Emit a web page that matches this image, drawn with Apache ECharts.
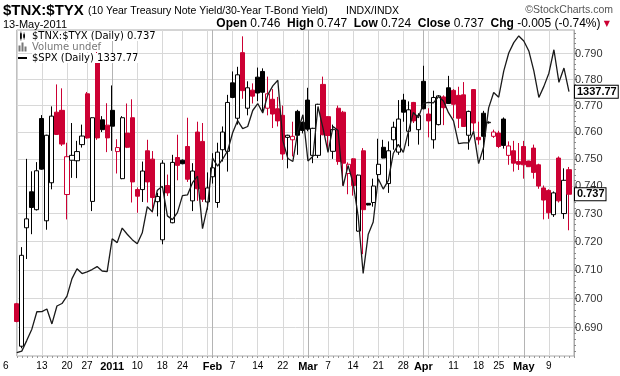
<!DOCTYPE html>
<html>
<head>
<meta charset="utf-8">
<script src="https://cdn.jsdelivr.net/npm/echarts@6/dist/echarts.min.js"></script>
<style>
  html, body { margin: 0; padding: 0; background: #fff; }
  #root { width: 620px; height: 376px; }
</style>
</head>
<body>
<div id="root"></div>
<script>
// trading days, 6-Dec-2010 .. 13-May-2011
const dates = [
  '2010-12-06','2010-12-07','2010-12-08','2010-12-09','2010-12-10','2010-12-13','2010-12-14','2010-12-15','2010-12-16','2010-12-17',
  '2010-12-20','2010-12-21','2010-12-22','2010-12-23','2010-12-27','2010-12-28','2010-12-29','2010-12-30','2010-12-31',
  '2011-01-03','2011-01-04','2011-01-05','2011-01-06','2011-01-07','2011-01-10','2011-01-11','2011-01-12','2011-01-13','2011-01-14',
  '2011-01-18','2011-01-19','2011-01-20','2011-01-21','2011-01-24','2011-01-25','2011-01-26','2011-01-27','2011-01-28','2011-01-31',
  '2011-02-01','2011-02-02','2011-02-03','2011-02-04','2011-02-07','2011-02-08','2011-02-09','2011-02-10','2011-02-11','2011-02-14',
  '2011-02-15','2011-02-16','2011-02-17','2011-02-18','2011-02-22','2011-02-23','2011-02-24','2011-02-25','2011-02-28',
  '2011-03-01','2011-03-02','2011-03-03','2011-03-04','2011-03-07','2011-03-08','2011-03-09','2011-03-10','2011-03-11','2011-03-14',
  '2011-03-15','2011-03-16','2011-03-17','2011-03-18','2011-03-21','2011-03-22','2011-03-23','2011-03-24','2011-03-25','2011-03-28',
  '2011-03-29','2011-03-30','2011-03-31','2011-04-01','2011-04-04','2011-04-05','2011-04-06','2011-04-07','2011-04-08','2011-04-11',
  '2011-04-12','2011-04-13','2011-04-14','2011-04-15','2011-04-18','2011-04-19','2011-04-20','2011-04-21','2011-04-25','2011-04-26',
  '2011-04-27','2011-04-28','2011-04-29','2011-05-02','2011-05-03','2011-05-04','2011-05-05','2011-05-06','2011-05-09','2011-05-10',
  '2011-05-11','2011-05-12','2011-05-13'
]

const opens = [
  0.6982,0.6837,0.7249,0.7379,0.7314,0.7651,0.7274,0.7412,0.7675,0.7682,
  0.7369,0.7495,0.7493,0.7553,0.7745,0.7344,0.7864,0.7646,0.7626,0.7682,
  0.7527,0.7427,0.7596,0.7654,0.7387,0.7387,0.7530,0.7499,0.7343,0.7206,
  0.7402,0.7267,0.7505,0.7495,0.7546,0.7346,0.7600,0.7565,0.7342,0.7434,
  0.7340,0.7534,0.7528,0.7787,0.7652,0.7904,0.7690,0.7759,0.7809,0.7831,
  0.7690,0.7724,0.7688,0.7663,0.7580,0.7571,0.7678,0.7636,0.7721,0.7513,
  0.7513,0.7781,0.7658,0.7528,0.7690,0.7675,0.7446,0.7500,0.7237,0.7530,
  0.7337,0.7340,0.7442,0.7543,0.7409,0.7571,0.7525,0.7721,0.7603,0.7712,
  0.7609,0.7793,0.7668,0.7571,0.7628,0.7733,0.7768,0.7758,0.7739,0.7741,
  0.7588,0.7761,0.7580,0.7671,0.7635,0.7584,0.7596,0.7649,0.7513,0.7530,
  0.7490,0.7546,0.7492,0.7540,0.7478,0.7393,0.7384,0.7296,0.7503,0.7300,
  0.746
]
const highs = [
  0.6985,0.7180,0.7500,0.7454,0.7488,0.7664,0.7590,0.7697,0.7781,0.7766,
  0.7560,0.7634,0.7567,0.7628,0.7752,0.7656,0.7918,0.7660,0.7709,0.7777,
  0.7573,0.7660,0.7708,0.7724,0.7395,0.7490,0.7571,0.7529,0.7375,0.7495,
  0.7442,0.7515,0.7590,0.7498,0.7654,0.7484,0.7639,0.7634,0.7450,0.7521,
  0.7560,0.7621,0.7741,0.7831,0.7849,0.7968,0.7793,0.7785,0.7846,0.7843,
  0.7811,0.7763,0.7733,0.7700,0.7590,0.7639,0.7684,0.7640,0.7768,0.7616,
  0.7707,0.7811,0.7660,0.7628,0.7700,0.7680,0.7487,0.7502,0.7442,0.7540,
  0.7338,0.7427,0.7575,0.7571,0.7565,0.7639,0.7721,0.7745,0.7716,0.7714,
  0.7671,0.7853,0.7690,0.7757,0.7740,0.7739,0.7814,0.7763,0.7772,0.7790,
  0.7681,0.7763,0.7639,0.7680,0.7640,0.7609,0.7605,0.7655,0.7565,0.7567,
  0.7559,0.7567,0.7493,0.7553,0.7482,0.7402,0.7388,0.7380,0.7509,0.7465,
  0.747
]
const lows = [
  0.6918,0.6830,0.7138,0.7226,0.7311,0.7460,0.7242,0.7388,0.7589,0.7548,
  0.7279,0.7430,0.7429,0.7542,0.7575,0.7309,0.7571,0.7600,0.7525,0.7530,
  0.7446,0.7425,0.7540,0.7340,0.7303,0.7342,0.7340,0.7304,0.7290,0.7190,
  0.7364,0.7265,0.7421,0.7480,0.7415,0.7309,0.7346,0.7342,0.7314,0.7409,
  0.7321,0.7490,0.7453,0.7728,0.7628,0.7726,0.7663,0.7708,0.7717,0.7678,
  0.7663,0.7615,0.7621,0.7496,0.7465,0.7509,0.7515,0.7595,0.7603,0.7484,
  0.7503,0.7588,0.7530,0.7500,0.7478,0.7402,0.7370,0.7365,0.7235,0.7155,
  0.7330,0.7325,0.7405,0.7502,0.7375,0.7534,0.7515,0.7639,0.7547,0.7634,
  0.7553,0.7686,0.7580,0.7538,0.7625,0.7626,0.7706,0.7652,0.7615,0.7619,
  0.7534,0.7603,0.7553,0.7496,0.7632,0.7578,0.7540,0.7538,0.7478,0.7453,
  0.7459,0.7427,0.7470,0.7427,0.7390,0.7279,0.7281,0.7288,0.7340,0.7281,
  0.724
]
const closes = [
  0.6921,0.7151,0.7281,0.7322,0.7456,0.7462,0.7588,0.7660,0.7591,0.7555,
  0.7508,0.7513,0.7527,0.7585,0.7578,0.7654,0.7578,0.7609,0.7578,0.7622,
  0.7542,0.7654,0.7543,0.7415,0.7363,0.7455,0.7415,0.7358,0.7362,0.7484,
  0.7375,0.7487,0.7476,0.7482,0.7425,0.7455,0.7390,0.7352,0.7393,0.7467,
  0.7525,0.7600,0.7712,0.7731,0.7818,0.7757,0.7768,0.7736,0.7748,0.7751,
  0.7745,0.7668,0.7642,0.7518,0.7588,0.7584,0.7588,0.7606,0.7611,0.7614,
  0.7705,0.7590,0.7587,0.7609,0.7490,0.7484,0.7480,0.7402,0.7440,0.7314,
  0.7331,0.7400,0.7480,0.7503,0.7530,0.7618,0.7649,0.7675,0.7684,0.7642,
  0.7663,0.7688,0.7642,0.7731,0.7737,0.7692,0.7708,0.7705,0.7652,0.7621,
  0.7678,0.7634,0.7571,0.7584,0.7637,0.7600,0.7546,0.7550,0.7548,0.7484,
  0.7480,0.7478,0.7471,0.7450,0.7400,0.7349,0.7303,0.7375,0.7346,0.7421,
  0.737
]

// $SPX daily closes
const spx = [
  1223.12,1223.75,1228.28,1233.00,1240.40,1240.46,1241.59,1235.23,1242.87,1243.91,
  1247.08,1254.60,1258.84,1256.77,1257.54,1258.51,1259.78,1257.88,1257.64,
  1271.87,1270.20,1276.56,1273.85,1271.50,1269.75,1274.48,1285.96,1283.76,1293.24,
  1295.02,1281.92,1280.26,1283.35,1290.84,1291.18,1296.63,1299.54,1276.34,1286.12,
  1307.59,1304.03,1307.10,1310.87,1319.05,1324.57,1320.88,1321.87,1329.15,1332.32,
  1328.01,1336.32,1340.43,1343.01,1315.44,1307.40,1306.10,1319.88,1327.22,
  1306.33,1308.44,1330.97,1321.15,1310.13,1321.82,1320.02,1295.11,1304.28,1296.39,
  1281.87,1256.88,1273.72,1279.21,1298.38,1293.77,1297.54,1309.66,1313.80,1310.19,
  1319.44,1328.26,1325.83,1332.41,1332.87,1332.63,1335.54,1333.51,1328.17,1324.46,
  1314.16,1314.41,1314.52,1319.68,1305.14,1312.62,1330.36,1337.38,1335.25,1347.24,
  1355.66,1360.48,1363.61,1361.22,1356.62,1347.32,1335.10,1340.20,1346.29,1357.16,
  1342.08,1348.65,1337.77
]

// axes
const priceTicks = [0.690, 0.700, 0.710, 0.720, 0.730, 0.740, 0.750, 0.760, 0.770, 0.780, 0.790]
const labelIdx = [0, 5, 10, 14, 19, 24, 29, 33, 39, 43, 48, 53, 58, 62, 67, 72, 77, 81, 87, 92, 96, 101, 106]
const labelText = ['6', '13', '20', '27', '2011', '10', '18', '24', 'Feb', '7', '14', '22', 'Mar', '7', '14', '21', '28', 'Apr', '11', '18', '25', 'May', '9']
const weekIdx = [0, 5, 10, 14, 19, 24, 29, 33, 38, 43, 48, 53, 57, 62, 67, 72, 77, 82, 87, 92, 96, 101, 106]
const monthIdx = [19, 39, 58, 81, 101]

const priceMin = 0.6804, priceMax = 0.7993
const spxMin = 1221.7, spxMax = 1366.4

const red = '#cc0033'
const last = closes.length - 1
const cats = dates.concat([''])   // one spare slot on the right
const ln = Math.log

// hollow = close above open, red = close below previous close
const candles = opens.map((o, i) => {
  const c = closes[i]
  const prev = i > 0 ? closes[i - 1] : o
  const stroke = c >= prev ? '#000' : red
  const fill = c > o ? '#fff' : stroke
  return {
    value: [ln(o), ln(c), ln(lows[i]), ln(highs[i])],
    itemStyle: { color: fill, color0: fill, borderColor: stroke, borderColor0: stroke }
  }
})

const minorTicks = []
for (let v = 682; v <= 798; v += 2) minorTicks.push(ln(v / 1000))

const tnxName = '$TNX:$TYX (Daily) ' + closes[last].toFixed(3)
const spxName = '$SPX (Daily) ' + spx[last].toFixed(2)
const font = 'Liberation Sans'

const chart = echarts.init(document.getElementById('root'))

const option = {
  animation: false,
  backgroundColor: '#fff',
  title: [
    { text: '$TNX:$TYX', left: 3, top: 3, padding: 0,
      textStyle: { fontFamily: font, fontSize: 15, fontWeight: 'bold', color: '#000' } },
    { text: '(10 Year Treasury Note Yield/30-Year T-Bond Yield)', left: 88, top: 6, padding: 0,
      textStyle: { fontFamily: font, fontSize: 10.5, fontWeight: 'normal', color: '#000' } },
    { text: 'INDX/INDX', left: 346, top: 6, padding: 0,
      textStyle: { fontFamily: font, fontSize: 10.5, fontWeight: 'normal', color: '#000' } },
    { text: '\u00A9StockCharts.com', right: 7, top: 5, padding: 0,
      textStyle: { fontFamily: font, fontSize: 10.5, fontWeight: 'normal', color: '#555' } },
    { text: '13-May-2011', left: 3, top: 19, padding: 0,
      textStyle: { fontFamily: font, fontSize: 11, fontWeight: 'normal', color: '#000' } },
    { text: '{b|Open} 0.746  {b|High} 0.747  {b|Low} 0.724  {b|Close} 0.737  {b|Chg} -0.005 (-0.74%) {t|\u25BC}',
      right: 10, top: 18, padding: 0,
      textStyle: { fontFamily: font, fontSize: 12, fontWeight: 'normal', color: '#000',
        rich: { b: { fontFamily: font, fontSize: 12, fontWeight: 'bold' },
                t: { fontFamily: 'DejaVu Sans', fontSize: 8, color: red } } } }
  ],
  legend: {
    orient: 'vertical', left: 18, top: 31, padding: 0, itemGap: 1,
    itemWidth: 9, itemHeight: 9, selectedMode: false,
    textStyle: { fontFamily: 'DejaVu Sans', fontSize: 10, color: '#000', backgroundColor: '#fff', lineHeight: 10 },
    data: [
      { name: tnxName, icon: 'path://M0,2H2V8H0ZM0.6,0H1.4V10H0.6ZM3.5,3H5.5V7H3.5ZM4.1,1H4.9V9H4.1Z',
        itemStyle: { color: '#000', borderWidth: 0 } },
      { name: 'Volume undef', icon: 'path://M0,4H2V10H0ZM3,1H5V10H3ZM6,5H8V10H6Z',
        itemStyle: { color: '#777', borderWidth: 0 }, textStyle: { color: '#777' } },
      { name: spxName, icon: 'path://M0,0H10V2.2H0Z', itemStyle: { color: '#000', borderWidth: 0 } }
    ]
  },
  grid: { left: 16, right: 46, top: 30, bottom: 20, show: true, borderColor: '#aaa', borderWidth: 1 },
  xAxis: [
    {
      type: 'category', data: cats, boundaryGap: false,
      axisLine: { show: false },
      axisTick: { show: true, interval: 0, length: 2, lineStyle: { color: '#999' } },
      axisLabel: {
        interval: (i) => labelIdx.includes(i),
        margin: 5, fontFamily: font, fontSize: 10, color: '#000',
        formatter: (v, i) => {
          const t = labelText[labelIdx.indexOf(i)]
          if (i === 0) return '{first|' + t + '}'
          return isNaN(t) || Number(t) > 31 ? '{m|' + t + '}' : t
        },
        rich: {
          first: { fontFamily: font, fontSize: 10, padding: [0, 22, 0, 0] },
          m: { fontFamily: font, fontSize: 11, fontWeight: 'bold' }
        }
      },
      splitLine: { show: true, interval: (i) => weekIdx.includes(i), lineStyle: { color: '#d8d8d8' } }
    },
    {
      type: 'category', data: cats, boundaryGap: false, position: 'bottom',
      axisLine: { show: false }, axisTick: { show: false }, axisLabel: { show: false },
      splitLine: { show: true, interval: (i) => monthIdx.includes(i), lineStyle: { color: '#b4b4b4' } }
    }
  ],
  yAxis: [
    {
      type: 'value', position: 'right', min: ln(priceMin), max: ln(priceMax),
      axisLine: { show: true, lineStyle: { color: '#aaa' } },
      axisTick: { show: true, length: 3, customValues: priceTicks.map(ln), lineStyle: { color: '#777' } },
      axisLabel: {
        customValues: priceTicks.map(ln), margin: 1,
        fontFamily: font, fontSize: 11, color: '#333',
        formatter: (v) => Math.exp(v).toFixed(3)
      },
      splitLine: { show: true, lineStyle: { color: '#d8d8d8' } }
    },
    {
      type: 'value', position: 'right', min: ln(priceMin), max: ln(priceMax),
      axisLine: { show: false },
      axisTick: { show: true, length: 2, customValues: minorTicks, lineStyle: { color: '#888' } },
      axisLabel: { show: false },
      splitLine: { show: false }
    },
    { type: 'value', show: false, min: ln(spxMin), max: ln(spxMax), splitLine: { show: false } }
  ],
  series: [
    {
      name: tnxName, type: 'candlestick', data: candles, barWidth: 4.6,
      xAxisIndex: 0, yAxisIndex: 0,
      itemStyle: { borderWidth: 1 }
    },
    { name: 'Volume undef', type: 'bar', data: [], xAxisIndex: 0, yAxisIndex: 0 },
    {
      name: spxName, type: 'line', data: spx.map(ln), xAxisIndex: 0, yAxisIndex: 2,
      symbol: 'none', lineStyle: { color: '#1a1a1a', width: 1.3 },
      endLabel: {
        show: true, distance: 6, formatter: () => spx[last].toFixed(2),
        fontFamily: font, fontSize: 11, fontWeight: 'bold', color: '#000',
        backgroundColor: '#fff', borderColor: '#000', borderWidth: 1, padding: [1, 1, 0, 2]
      }
    },
    {
      name: 'close', type: 'line', data: closes.map(ln), xAxisIndex: 0, yAxisIndex: 0,
      symbol: 'none', silent: true, lineStyle: { opacity: 0, width: 0 },
      endLabel: {
        show: true, distance: 6, formatter: () => closes[last].toFixed(3),
        fontFamily: font, fontSize: 11, fontWeight: 'bold', color: '#000',
        backgroundColor: '#fff', borderColor: '#000', borderWidth: 1, padding: [1, 1, 0, 2]
      }
    }
  ]
}

chart.setOption(option)
</script>
</body>
</html>
